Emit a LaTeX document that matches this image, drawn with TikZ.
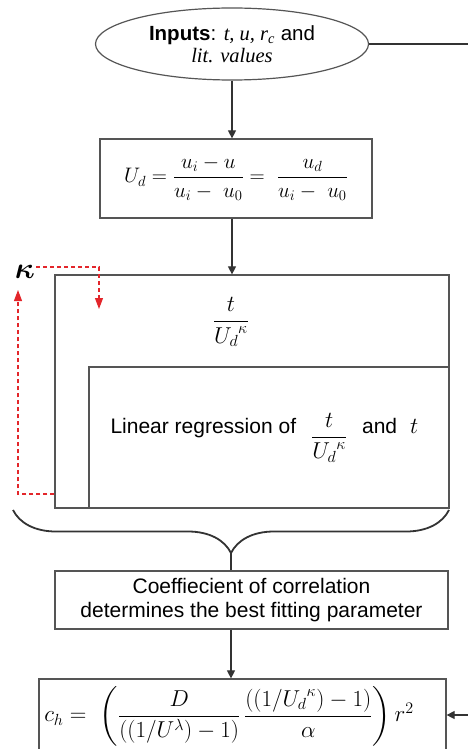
\RequirePackage{fix-cm}
\documentclass[tikz,border=0pt]{standalone}
\usepackage{fontspec}
\usepackage{amsmath}
\usetikzlibrary{arrows.meta,positioning,shapes.geometric,decorations.pathreplacing}
\newfontfamily\arialfont{Liberation Sans}
\newfontfamily\timesfont{Liberation Serif}
\definecolor{boxline}{HTML}{555555}
\definecolor{linkline}{HTML}{333333}
\definecolor{loopred}{HTML}{E3262B}

\begin{document}
\begin{tikzpicture}[
  x=1pt, y=1pt,
  txt/.style={font=\fontsize{21}{23.5}\selectfont\arialfont, align=center},
  mth/.style={font=\fontsize{21}{25}\selectfont},
  frame/.style={draw=boxline, line width=1.2pt, inner sep=0pt},
  link/.style={draw=linkline, line width=1.1pt},
  arr/.style={link, -{Triangle[length=8pt,width=8pt]}},
  loop/.style={draw=loopred, line width=1.1pt, dash pattern=on 4pt off 3pt,
    -{Triangle[length=11pt,width=8pt]}}
]
  \clip (0,0) rectangle (468,-749);

  % inputs
  \node[frame, ellipse, minimum width=273pt, minimum height=72pt] (inp) at (232,-44) {};
  \node[txt, font=\fontsize{20.5}{22}\selectfont\arialfont] (inptxt) at (232,-44)
    {\textbf{Inputs}: {\timesfont\itshape t, u, r\textsubscript{c}} and\\
     {\timesfont\itshape lit. values}};
  \coordinate (rt) at (468,-44);
  \draw[link] (inp.east) -- (rt);

  % U_d
  \node[frame, mth, minimum width=272pt, minimum height=79pt] (ud) at (236,-178.5)
    {$U_d = \dfrac{u_i - u}{u_i -\ u_0} = \ \dfrac{u_d}{u_i -\ u_0}$};
  \draw[arr] (inp.south) -- (inp.south |- ud.north);

  % search over kappa
  \node[frame, minimum width=394pt, minimum height=233pt] (outer) at (252,-391.5) {};
  \node[mth, font=\fontsize{23}{27}\selectfont] (tfrac) at (231,-322) {$\dfrac{t}{{U_d}^{\kappa}}$};
  \node[frame, minimum width=360pt, minimum height=141pt] (inner) at (269,-437.5) {};
  \node[txt, align=none, anchor=base west] (lin) at (107,-433)
    {Linear regression of\hspace{15pt}\raisebox{-10pt}{\fontsize{23}{27}\selectfont$\dfrac{t}{{U_d}^{\kappa}}$}\hspace{15pt}and\hspace{13pt}{\fontsize{23}{27}\selectfont$t$}};
  \draw[arr] (ud.south -| inp.south) -- (inp.south |- outer.north);

  % kappa loop
  \node[font=\fontsize{30}{30}\selectfont\boldmath] (kap) at (25,-272) {$\kappa$};
  \coordinate (ktop) at (36,-267);
  \coordinate (kdn) at (99,-309);
  \coordinate (kret) at (18,-494);
  \coordinate (kup) at (18,-290);
  \draw[loop] (ktop) -| (kdn);
  \draw[loop] (outer.west |- kret) -- (kret) -- (kup);

  % brace
  \draw[linkline, line width=1.8pt, decorate, decoration={brace, amplitude=43pt}]
    (449,-510) -- (13,-510);
  \coordinate (bt) at (231,-553);

  % correlation
  \node[frame, txt, minimum width=393pt, minimum height=58pt] (coef) at (251.5,-600)
    {Coeffiecient of correlation\\determines the best fitting parameter};
  \draw[link] (bt) -- (bt |- coef.north);

  % c_h
  \node[frame, minimum width=407pt, minimum height=90pt] (ch) at (242.5,-724) {};
  \node[mth, font=\fontsize{23}{27}\selectfont] (chf) at (229,-716)
    {$c_h = \ \left(\dfrac{D}{((1/U^{\lambda}) - 1)}\,\dfrac{((1/{U_d}^{\kappa}) - 1)}{\alpha}\right) r^2$};
  \draw[arr] (coef.south -| bt) -- (bt |- ch.north);
  \coordinate (rb) at (468,-715);
  \draw[arr] (rb) -- (rb -| ch.east);
\end{tikzpicture}
\end{document}
